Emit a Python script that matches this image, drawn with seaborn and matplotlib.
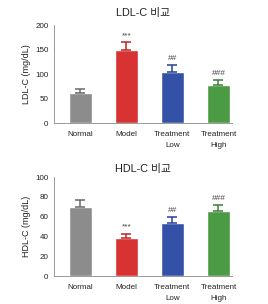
import matplotlib
matplotlib.use("Agg")
import matplotlib.pyplot as plt
import pandas as pd
import seaborn as sns

groups = ["Normal", "Model", "Treatment\nLow", "Treatment\nHigh"]
colors = ["#8c8c8c", "#d93232", "#3451a8", "#4b9a44"]
err_colors = ["#6a6a6a", "#b82525", "#26408f", "#3a7f35"]

ldl_mean = [61, 150, 105, 77]
ldl_err = [9, 15, 14, 12]
ldl_marks = ["", "***", "##", "###"]

hdl_mean = [70, 38, 54, 66]
hdl_err = [7, 5, 6, 6]
hdl_marks = ["", "***", "##", "###"]

sns.set_style("white")
plt.rcParams["font.family"] = ["Liberation Sans", "Noto Sans CJK KR", "DejaVu Sans"]

fig = plt.figure(figsize=(2.68, 3.04), dpi=100)
ax1 = fig.add_axes([0.2015, 0.595, 0.665, 0.322])
ax2 = fig.add_axes([0.2015, 0.092, 0.665, 0.325])


def panel(ax, mean, err, marks, title, ylabel, ymax, step, tpad):
    df = pd.DataFrame({"group": groups, "value": mean})
    sns.barplot(data=df, x="group", y="value", hue="group", palette=colors,
                legend=False, width=0.5, ax=ax, saturation=1)
    for i, (m, e) in enumerate(zip(mean, err)):
        ax.errorbar(i, m, yerr=[[0], [e]], color=err_colors[i], capsize=3.5,
                    elinewidth=1.1, capthick=1.1)
        if marks[i]:
            ax.text(i, m + e + ymax * 0.03, marks[i], ha="center", va="bottom",
                    fontsize=6, color="#444444")
    ax.set_ylim(0, ymax)
    ax.set_yticks(range(0, ymax + 1, step))
    ax.set_xlim(-0.57, 3.3)
    ax.set_title(title, fontsize=7.8, pad=tpad, color="#222222")
    ax.set_ylabel(ylabel, fontsize=6.5, color="#222222", labelpad=3)
    ax.set_xlabel("")
    ax.tick_params(axis="both", labelsize=5.8, length=2, width=0.6,
                   color="#999999", pad=2, labelcolor="#222222")
    ax.tick_params(axis="x", pad=4)
    for s in ["top", "right"]:
        ax.spines[s].set_visible(False)
    for s in ["left", "bottom"]:
        ax.spines[s].set_color("#999999")
        ax.spines[s].set_linewidth(0.7)
    for lab in ax.get_xticklabels():
        lab.set_linespacing(1.7)


panel(ax1, ldl_mean, ldl_err, ldl_marks, "LDL-C 비교", "LDL-C (mg/dL)", 200, 50, 6.5)
panel(ax2, hdl_mean, hdl_err, hdl_marks, "HDL-C 비교", "HDL-C (mg/dL)", 100, 20, 4)

fig.savefig("out.png", dpi=100)
